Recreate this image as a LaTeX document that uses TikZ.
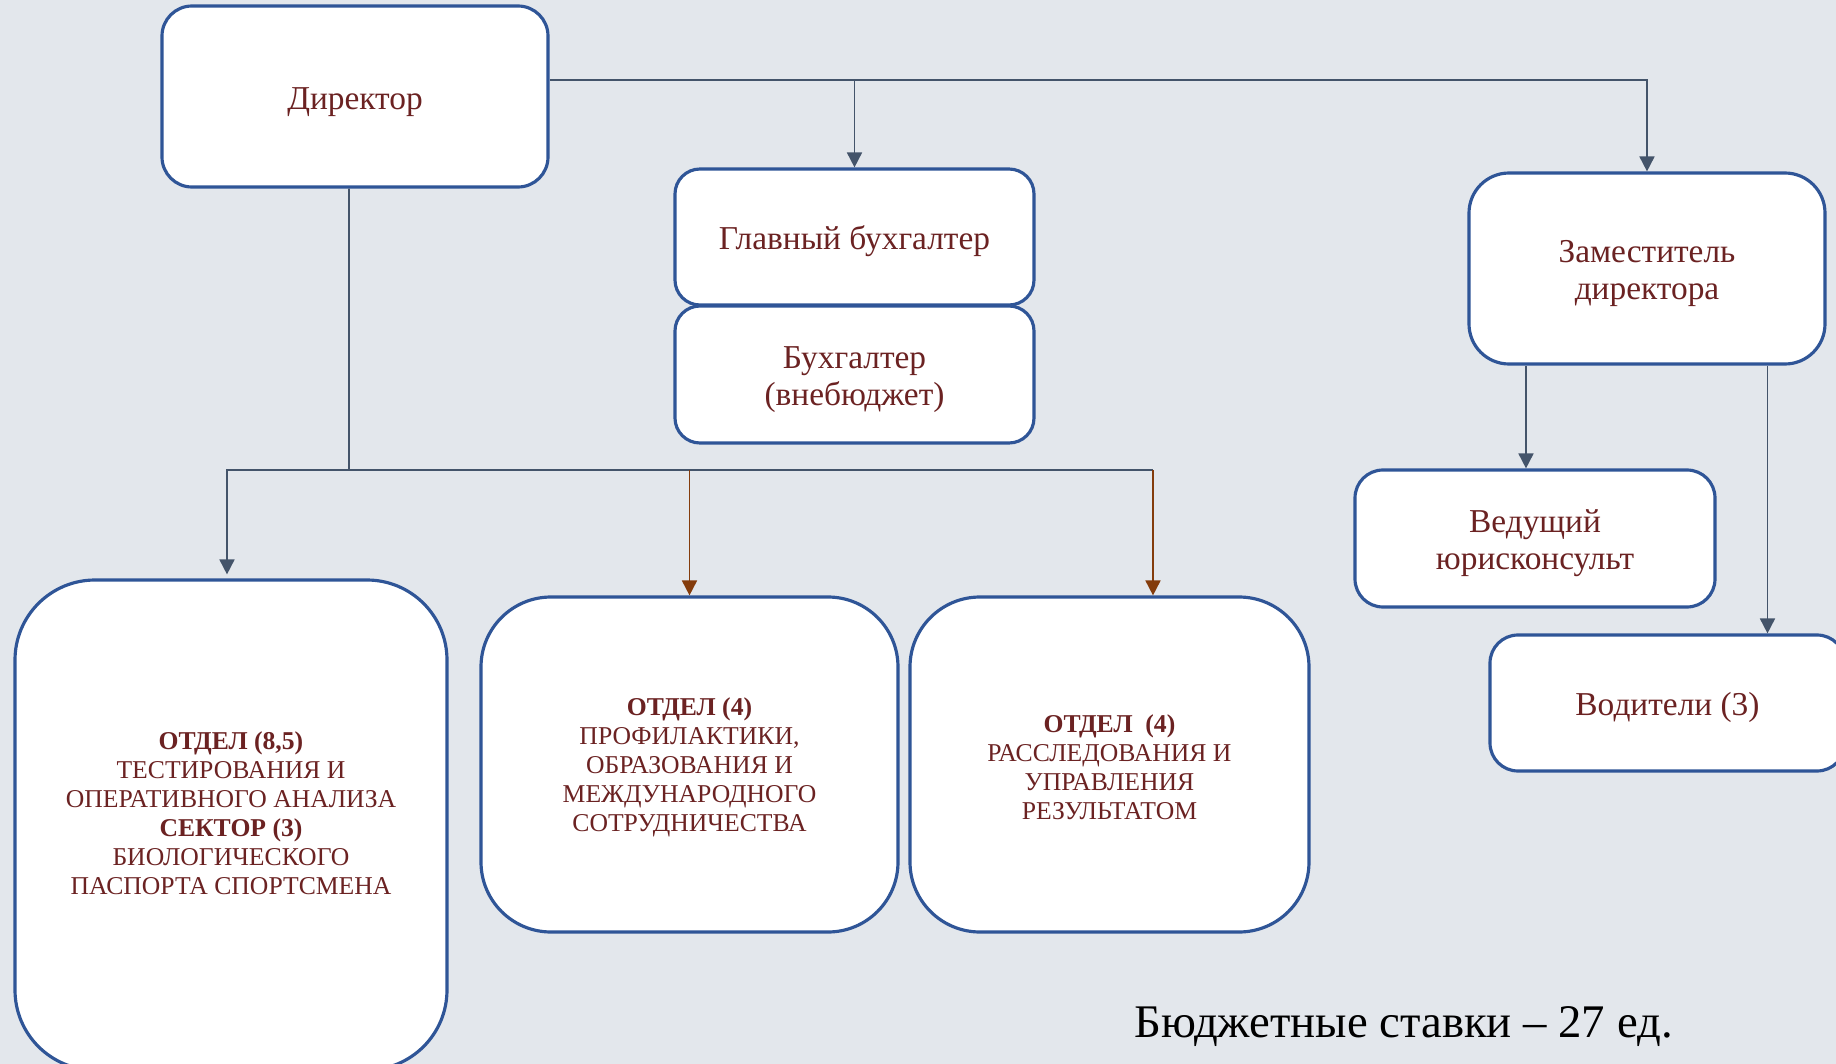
\documentclass[tikz,border=0pt]{standalone}
\usepackage{fontspec}
\setmainfont{Liberation Serif}
\usetikzlibrary{arrows.meta}

\definecolor{bg}{HTML}{E3E7EC}
\definecolor{boxblue}{HTML}{2F5597}
\definecolor{txtred}{HTML}{6B2222}
\definecolor{linegray}{HTML}{44546A}
\definecolor{arrbrown}{HTML}{843C0C}

% struts to sit the first line a little lower
\newcommand{\ustrut}{\rule{0pt}{9.2pt}}
\newcommand{\dstrut}{\rule{0pt}{6.6pt}}

\tikzset{
  unit/.style={draw=boxblue, fill=white, line width=0.9pt, align=center, text=txtred, inner sep=2pt, font=\fontsize{9.5}{10.6}\selectfont},
  dept/.style={unit, font=\fontsize{7.3}{8.3}\selectfont},
  conn/.style={draw=linegray, line width=0.5pt},
  tip/.style={conn, -{Triangle[length=1.5mm,width=1.5mm]}},
  btip/.style={tip, draw=arrbrown}
}

\begin{document}
\begin{tikzpicture}[x=0.1mm,y=-0.1mm]

\fill[bg](0,0) rectangle (1836,1064);
\useasboundingbox (0,0) rectangle (1836,1064);

% Boxes
\node[unit, minimum width=38.6mm, minimum height=18.1mm, rounded corners=3mm] (director) at (355,96.5) {\ustrut Директор};
\node[unit, minimum width=35.9mm, minimum height=13.6mm, rounded corners=2.5mm] (glbuh) at (854.5,237) {\ustrut Главный бухгалтер};
\node[unit, minimum width=35.9mm, minimum height=13.7mm, rounded corners=2.5mm] (buh) at (854.5,374.5) {\ustrut Бухгалтер\\(внебюджет)};
\node[unit, minimum width=35.6mm, minimum height=19.1mm, rounded corners=4mm] (zam) at (1647,268.5) {\ustrut Заместитель\\директора};
\node[unit, minimum width=36mm, minimum height=13.7mm, rounded corners=2.8mm] (jur) at (1535,538.5) {\ustrut Ведущий\\юрисконсульт};
\node[unit, minimum width=35.5mm, minimum height=13.6mm, rounded corners=2.8mm] (vod) at (1667.5,703) {\ustrut Водители (3)};

% Departments
\node[dept, minimum width=43.2mm, minimum height=49mm, rounded corners=8mm] (otd1) at (231,825) {\dstrut\textbf{ОТДЕЛ (8,5)}\\ТЕСТИРОВАНИЯ И\\ОПЕРАТИВНОГО АНАЛИЗА\\\textbf{СЕКТОР (3)}\\БИОЛОГИЧЕСКОГО\\ПАСПОРТА СПОРТСМЕНА\\[0pt]};
\node[dept, minimum width=41.7mm, minimum height=33.5mm, rounded corners=7mm] (otd2) at (689.5,764.5) {\dstrut\textbf{ОТДЕЛ (4)}\\ПРОФИЛАКТИКИ,\\ОБРАЗОВАНИЯ И\\МЕЖДУНАРОДНОГО\\СОТРУДНИЧЕСТВА};
\node[dept, minimum width=39.9mm, minimum height=33.5mm, rounded corners=7mm] (otd3) at (1109.5,764.5) {\dstrut\textbf{ОТДЕЛ~~(4)}\\РАССЛЕДОВАНИЯ И\\УПРАВЛЕНИЯ\\РЕЗУЛЬТАТОМ};

% Top bus
\coordinate (tbus) at ([yshift=1.65mm]director.east);
\draw[tip](tbus) -| (zam.north);
\draw[tip](tbus -| glbuh.north) -- (glbuh.north);

% Bottom bus
\coordinate (bbus) at (349,470);
\coordinate (otd1tip) at ([xshift=-0.4mm,yshift=0.4mm]otd1.north);
\coordinate (otd3tip) at ([xshift=4.35mm]otd3.north);
\draw[conn]([xshift=-0.6mm]director.south) -- (bbus);
\draw[tip](bbus) -| (otd1tip);
\draw[conn](bbus) -- (bbus -| otd3tip);
\draw[btip](bbus -| otd2.north) -- (otd2.north);
\draw[btip](bbus -| otd3tip) -- (otd3tip);

% Deputy
\coordinate (jurtip) at ([xshift=-0.9mm]jur.north);
\coordinate (vodtip) at ([xshift=10mm]vod.north);
\draw[tip](zam.south -| jurtip) -- (jurtip);
\draw[tip](zam.south -| vodtip) -- (vodtip);

% Description
\node[anchor=base west, inner sep=0pt, font=\fontsize{13.3}{15}\selectfont] (budget) at (1134,1037) {Бюджетные ставки – 27 ед.};

\end{tikzpicture}
\end{document}
